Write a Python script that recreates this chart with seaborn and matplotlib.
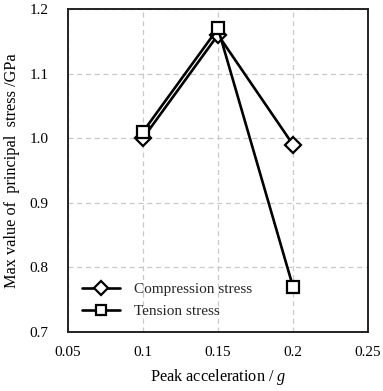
import matplotlib
matplotlib.use("Agg")
import matplotlib.pyplot as plt
import seaborn as sns
import pandas as pd

accel = [0.1, 0.15, 0.2]
compression = [1.0, 1.16, 0.99]
tension = [1.01, 1.17, 0.77]

sns.set_theme(style="white")
plt.rcParams["font.family"] = ["Liberation Serif", "DejaVu Serif"]
plt.rcParams["mathtext.fontset"] = "custom"
plt.rcParams["mathtext.it"] = "Liberation Serif:italic"

df = pd.concat([
    pd.DataFrame({"accel": accel, "stress": compression, "kind": "Compression stress"}),
    pd.DataFrame({"accel": accel, "stress": tension, "kind": "Tension stress"}),
])

fig = plt.figure(figsize=(3.83, 3.91), dpi=100)
ax = fig.add_axes([68 / 383, 1 - 332 / 391, 300 / 383, 323 / 391])

sns.lineplot(data=df, x="accel", y="stress", hue="kind", style="kind",
             markers={"Compression stress": "D", "Tension stress": "s"},
             dashes=False, palette={"Compression stress": "black", "Tension stress": "black"},
             markerfacecolor="white", markeredgecolor="black",
             markeredgewidth=1.6, linewidth=1.9, ax=ax, legend=False)
for line, ms in zip(ax.lines, [8, 9]):
    line.set_markersize(ms)

ax.set_xlim(0.05, 0.25)
ax.set_ylim(0.7, 1.2)
ax.set_xticks([0.05, 0.1, 0.15, 0.2, 0.25])
ax.set_xticklabels(["0.05", "0.1", "0.15", "0.2", "0.25"])
ax.set_yticks([0.7, 0.8, 0.9, 1.0, 1.1, 1.2])
ax.set_yticklabels(["0.7", "0.8", "0.9", "1.0", "1.1", "1.2"])
ax.tick_params(axis="both", length=0, labelsize=11, colors="black")
ax.tick_params(axis="x", pad=10)
ax.tick_params(axis="y", pad=14)
ax.grid(True, color="#c8c8c8", linestyle=(0, (4, 3)), linewidth=0.9)
for s in ax.spines.values():
    s.set_color("#222222")
    s.set_linewidth(1.4)

ax.set_xlabel("Peak acceleration / $\\it{g}$", fontsize=11.7, color="black", labelpad=6)
ax.set_ylabel("Max value of  principal  stress /GPa", fontsize=11.7, color="black", labelpad=7)

ax.legend(ax.lines[:2], ["Compression stress", "Tension stress"], loc="lower left",
          bbox_to_anchor=(0.0, 0.0), frameon=False, fontsize=11, handlelength=2.5,
          handletextpad=0.9, labelspacing=0.55, markerscale=0.85)

fig.savefig("out.png", dpi=100)
